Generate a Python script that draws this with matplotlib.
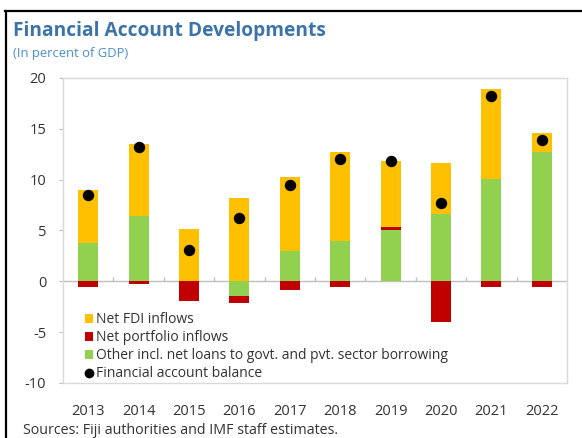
import numpy as np
import matplotlib
matplotlib.use("Agg")
import matplotlib.pyplot as plt
from matplotlib.lines import Line2D
from matplotlib.patches import Patch

years = ["2013", "2014", "2015", "2016", "2017", "2018", "2019", "2020", "2021", "2022"]
net_fdi = [5.2, 7.1, 5.1, 8.2, 7.3, 8.7, 6.5, 5.0, 8.8, 1.9]
net_portfolio = [-0.6, -0.25, -1.9, -0.7, -0.9, -0.6, 0.35, -4.0, -0.6, -0.6]
other_flows = [3.8, 6.4, 0.0, -1.4, 3.0, 4.0, 5.0, 6.65, 10.1, 12.7]
fa_balance = [8.5, 13.2, 3.1, 6.2, 9.5, 12.0, 11.85, 7.7, 18.25, 13.95]

C_FDI = "#FFC000"
C_PORT = "#C00000"
C_OTHER = "#92D050"
BLUE_TITLE = "#3C73A8"
BLUE_SUB = "#4A90D0"
TEXT = "#333333"
GRID = "#D9D9D9"

plt.rcParams["font.family"] = ["Open Sans", "DejaVu Sans"]

fig = plt.figure(figsize=(5.82, 4.38), dpi=100)
ax = fig.add_axes([63 / 582, 1 - 383 / 438, 504 / 582, 305 / 438])

x = np.arange(len(years))
width = 0.4

# stack order: other flows, portfolio, FDI; positives and negatives stacked separately
pos_base = np.zeros(len(years))
neg_base = np.zeros(len(years))
for vals, col in [(other_flows, C_OTHER), (net_portfolio, C_PORT), (net_fdi, C_FDI)]:
    v = np.array(vals, dtype=float)
    base = np.where(v >= 0, pos_base, neg_base)
    ax.bar(x, v, width, bottom=base, color=col, linewidth=0, zorder=3)
    pos_base = pos_base + np.where(v >= 0, v, 0)
    neg_base = neg_base + np.where(v < 0, v, 0)

ax.plot(x, fa_balance, "o", color="black", markersize=7.2, zorder=5)

# zero line with small category separators
ax.axhline(0, color="#BFBFBF", linewidth=1.0, zorder=2)
bounds = np.arange(len(years) + 1) - 0.5
ax.vlines(bounds[1:-1], 0, 0.45, color="#BFBFBF", linewidth=1.0, zorder=2)

ax.set_xlim(-0.5, len(years) - 0.5)
ax.set_ylim(-10, 20)
ax.set_yticks([-10, -5, 0, 5, 10, 15, 20])
ax.set_yticklabels(["-10", "-5", "0", "5", "10", "15", "20"])
ax.set_xticks(x)
ax.set_xticklabels(years)
ax.tick_params(axis="y", length=3, width=0.8, color="#BFBFBF", pad=9,
               labelsize=10.5, labelcolor=TEXT)
ax.tick_params(axis="x", length=0, pad=15, labelsize=10.5, labelcolor=TEXT)
for s in ax.spines.values():
    s.set_color(GRID)
    s.set_linewidth(1.0)

handles = [
    Patch(facecolor=C_FDI, edgecolor="none"),
    Patch(facecolor=C_PORT, edgecolor="none"),
    Patch(facecolor=C_OTHER, edgecolor="none"),
    Line2D([], [], marker="o", color="black", linestyle="none", markersize=6),
]
labels = [
    "Net FDI inflows",
    "Net portfolio inflows",
    "Other incl. net loans to govt. and pvt. sector borrowing",
    "Financial account balance",
]
ax.legend(handles, labels, loc="lower left", bbox_to_anchor=(0.043, 0.005),
          frameon=False, fontsize=10, handlelength=0.6, handleheight=0.6,
          handletextpad=0.25, labelspacing=0.22, borderpad=0, borderaxespad=0,
          labelcolor=TEXT)

fig.text(13 / 582, 1 - 31 / 438, "Financial Account Developments", fontsize=13.8,
         fontweight="bold", color=BLUE_TITLE, va="center", ha="left")
fig.text(13 / 582, 1 - 53 / 438, "(In percent of GDP)", fontsize=9.4,
         color=BLUE_SUB, va="center", ha="left")
fig.text(23 / 582, 1 - 431 / 438, "Sources: Fiji authorities and IMF staff estimates.",
         fontsize=10.3, color=TEXT, va="center", ha="left")

# outer frame lines on the left and top edges
fig.add_artist(Line2D([6 / 582, 6 / 582], [0, 1 - 11 / 438], transform=fig.transFigure,
                      color="black", linewidth=1.6))
fig.add_artist(Line2D([5 / 582, 1], [1 - 11 / 438, 1 - 11 / 438], transform=fig.transFigure,
                      color="black", linewidth=1.6))

fig.savefig("out.png", dpi=100)
